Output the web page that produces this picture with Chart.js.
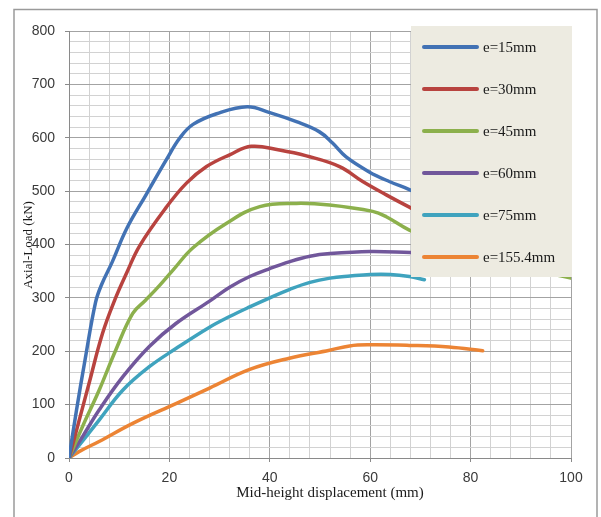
<!DOCTYPE html>
<html><head><meta charset="utf-8">
<script src="https://cdn.jsdelivr.net/npm/chart.js@4/dist/chart.umd.min.js"></script>
<style>html,body{margin:0;padding:0;background:#fff;overflow:hidden;}#wrap{width:601px;height:517px;}</style>
</head><body><div id="wrap"><canvas id="c" width="601" height="517"></canvas></div>
<script>
const seriesLabels = ['e=15mm', 'e=30mm', 'e=45mm', 'e=60mm', 'e=75mm', 'e=155.4mm'];
const seriesColors = ['#4272B4', '#B8433F', '#8CB04C', '#71579B', '#3FA3BE', '#EC8434'];

const e15X = [0, 1.5, 3.2, 5.3, 6.5, 8.6, 11.5, 15.4, 19.4, 22.1, 24.7, 29.4, 35.5, 40, 45.3, 49.9, 52.5, 55.2, 59.8, 63.8, 67.8, 72, 76];
const e15Y = [0, 90, 184, 292, 325, 367, 430, 494, 559, 600, 625, 645, 658, 647, 630, 611, 590, 564, 536, 518, 503, 485, 470];

const e30X = [0, 1.7, 4, 6.7, 9.2, 11.5, 14.1, 19.4, 23.4, 27.4, 32, 36.3, 41.9, 47.3, 53.9, 58.5, 63.2, 67.8, 72, 76];
const e30Y = [0, 59, 140, 234, 298, 347, 398, 470, 515, 546, 568, 584, 577, 566, 546, 518, 493, 470, 450, 435];

const e45X = [0, 2.7, 6, 9.3, 12.7, 15.3, 18.1, 20.8, 24.7, 31.4, 38, 45.3, 51.9, 60.5, 63.2, 67.8, 75, 85, 93, 100];
const e45Y = [0, 59, 127, 202, 271, 296, 324, 353, 394, 440, 471, 477, 474, 462, 452, 427, 400, 372, 352, 337];

const e60X = [0, 2.7, 6, 10.7, 16, 21.3, 28, 32, 36, 40, 44, 48, 52, 60, 68, 72];
const e60Y = [0, 40, 90, 152, 209, 252, 294, 320, 340, 355, 368, 378, 383, 387, 385, 384];

const e75X = [0, 6, 10.7, 16, 21.3, 28, 32, 36, 40, 44, 48, 52, 56, 60, 64, 67.8, 70.8];
const e75Y = [0, 71, 127, 171, 205, 245, 265, 283, 300, 316, 329, 337, 341, 344, 344, 340, 334];

const e155X = [0, 2, 6, 12.7, 21.3, 28, 36, 43.9, 51.9, 55.9, 59.8, 67.8, 75.7, 82.4];
const e155Y = [0, 12, 31, 65, 102, 131, 166, 187, 202, 210, 212, 211, 208, 201];

const xTitle = 'Mid-height displacement (mm)';
const yTitle = 'Axial-Load (kN)';

const seriesX = [e15X, e30X, e45X, e60X, e75X, e155X];
const seriesY = [e15Y, e30Y, e45Y, e60Y, e75Y, e155Y];

const datasets = seriesLabels.map((lab, i) => ({
  label: lab,
  data: seriesX[i].map((x, j) => ({x: x, y: seriesY[i][j]})),
  borderColor: seriesColors[i],
  backgroundColor: seriesColors[i],
  borderWidth: 3.5,
  pointRadius: 0,
  showLine: true,
  fill: false,
  tension: 0.4,
  borderCapStyle: 'round',
  borderJoinStyle: 'round'
}));

const isMajor = (v, step) => Math.abs(v / step - Math.round(v / step)) < 1e-6;

const decor = {
  id: 'decor',
  beforeDraw(chart) {
    const ctx = chart.ctx;
    ctx.save();
    ctx.strokeStyle = '#9a9a9a';
    ctx.lineWidth = 1.5;
    ctx.beginPath();
    ctx.moveTo(14, 530); ctx.lineTo(14, 9.5); ctx.lineTo(597, 9.5); ctx.lineTo(597, 530);
    ctx.stroke();
    ctx.restore();
  },
  afterDatasetsDraw(chart) {
    const ctx = chart.ctx;
    ctx.save();
    ctx.fillStyle = '#EDEBE1';
    ctx.fillRect(411, 26, 161, 251);
    chart.data.datasets.forEach((ds, i) => {
      const y = 47 + i * 42;
      ctx.strokeStyle = ds.borderColor;
      ctx.lineWidth = 4;
      ctx.lineCap = 'round';
      ctx.beginPath();
      ctx.moveTo(424, y); ctx.lineTo(477, y);
      ctx.stroke();
      ctx.fillStyle = '#1a1a1a';
      ctx.font = '15px "Liberation Serif", "Times New Roman", serif';
      ctx.textBaseline = 'middle';
      ctx.textAlign = 'left';
      ctx.fillText(ds.label, 483, y + 1);
    });
    ctx.fillStyle = '#1a1a1a';
    ctx.font = '15px "Liberation Serif", "Times New Roman", serif';
    ctx.textAlign = 'center';
    ctx.textBaseline = 'middle';
    ctx.fillText(xTitle, 330, 493);
    ctx.translate(29, 245);
    ctx.rotate(-Math.PI / 2);
    ctx.font = '13px "Liberation Serif", "Times New Roman", serif';
    ctx.fillText(yTitle, 0, 0);
    ctx.restore();
  }
};

new Chart(document.getElementById('c'), {
  type: 'scatter',
  data: { datasets: datasets },
  options: {
    responsive: false,
    animation: false,
    layout: { padding: { left: 0, top: 31, right: 30, bottom: 0 } },
    plugins: { legend: { display: false }, tooltip: { enabled: false } },
    scales: {
      x: {
        type: 'linear', min: 0, max: 100,
        afterFit: s => { s.height = 59; },
        ticks: {
          stepSize: 4, autoSkip: false, maxRotation: 0, padding: 8,
          color: '#3a3a3a', font: { family: '"Liberation Sans", Arial, sans-serif', size: 14 },
          callback: v => isMajor(v, 20) ? String(Math.round(v)) : ''
        },
        grid: {
          color: c => isMajor(c.tick.value, 20) ? '#a3a3a3' : '#d2d2d2',
          tickColor: c => isMajor(c.tick.value, 20) ? '#8a8a8a' : 'rgba(0,0,0,0)',
          tickLength: 4, lineWidth: 1
        },
        border: { color: '#8a8a8a', width: 1 }
      },
      y: {
        type: 'linear', min: 0, max: 800,
        afterFit: s => { s.width = 69; },
        ticks: {
          stepSize: 20, autoSkip: false, padding: 10,
          color: '#3a3a3a', font: { family: '"Liberation Sans", Arial, sans-serif', size: 14 },
          callback: v => isMajor(v, 100) ? String(Math.round(v)) : ''
        },
        grid: {
          color: c => isMajor(c.tick.value, 100) ? '#a3a3a3' : '#d2d2d2',
          tickColor: c => isMajor(c.tick.value, 100) ? '#8a8a8a' : 'rgba(0,0,0,0)',
          tickLength: 4, lineWidth: 1
        },
        border: { color: '#8a8a8a', width: 1 }
      }
    }
  },
  plugins: [decor]
});
</script>
</body></html>
